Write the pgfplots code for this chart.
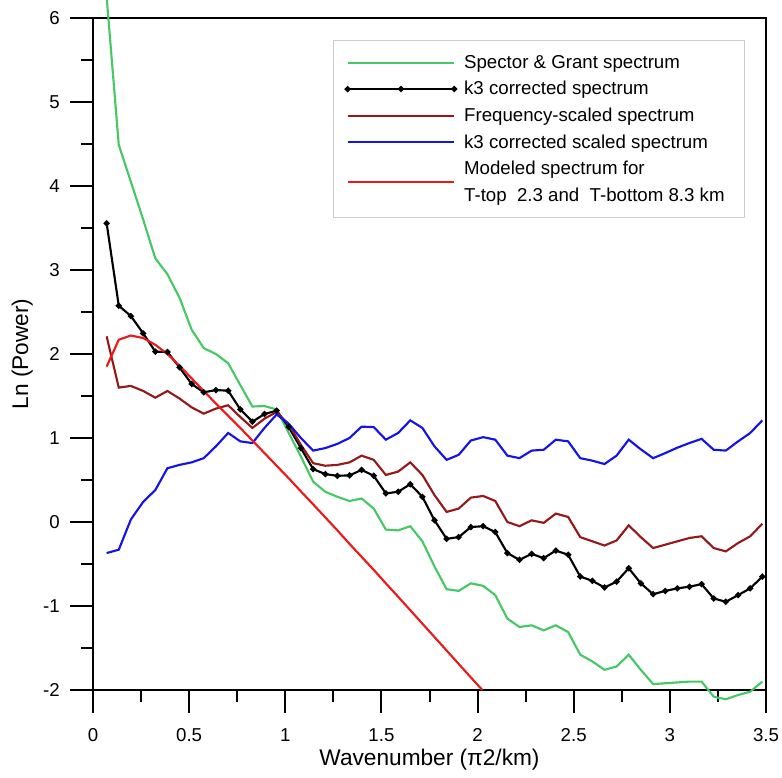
\documentclass[border=0pt]{standalone}
\usepackage{fontspec}
\setmainfont{Liberation Sans}
\usepackage{pgfplots}
\usepackage{pgfplotstable}
\pgfplotsset{compat=1.18}

\definecolor{sgGreen}{RGB}{70,200,100}
\definecolor{fsRed}{RGB}{150,25,25}
\definecolor{ksBlue}{RGB}{20,20,230}
\definecolor{modRed}{RGB}{235,25,25}

% x = wavenumber, sg = Spector & Grant, k3 = k3 corrected,
% fs = frequency-scaled, k3s = k3 corrected scaled
\pgfplotstableread{
x     sg     k3     fs     k3s
0.071 6.25   3.556  2.21   -0.37
0.134 4.49   2.575  1.60   -0.33
0.197 4.05   2.452  1.62   0.03
0.261 3.60   2.246  1.56   0.24
0.324 3.14   2.028  1.48   0.38
0.387 2.95   2.024  1.56   0.64
0.450 2.67   1.841  1.47   0.68
0.513 2.29   1.643  1.365  0.71
0.576 2.07   1.544  1.29   0.76
0.639 2.00   1.571  1.35   0.90
0.703 1.89   1.563  1.39   1.06
0.766 1.63   1.341  1.25   0.96
0.829 1.375  1.194  1.12   0.94
0.892 1.38   1.286  1.23   1.12
0.955 1.34   1.325  1.31   1.28
1.018 1.06   1.13   1.16   1.17
1.081 0.78   0.88   0.92   1.00
1.145 0.48   0.63   0.70   0.85
1.208 0.36   0.57   0.67   0.88
1.271 0.30   0.55   0.68   0.93
1.334 0.25   0.555  0.71   1.00
1.397 0.28   0.62   0.79   1.135
1.460 0.16   0.55   0.74   1.13
1.523 -0.09  0.34   0.56   0.98
1.587 -0.10  0.36   0.60   1.06
1.650 -0.05  0.45   0.71   1.21
1.713 -0.23  0.30   0.56   1.12
1.776 -0.53  0.02   0.32   0.90
1.839 -0.80  -0.20  0.12   0.74
1.902 -0.82  -0.18  0.16   0.80
1.965 -0.73  -0.06  0.29   0.97
2.029 -0.76  -0.05  0.31   1.01
2.092 -0.87  -0.12  0.25   0.98
2.155 -1.15  -0.37  0.00   0.79
2.218 -1.25  -0.45  -0.05  0.76
2.281 -1.23  -0.38  0.02   0.85
2.344 -1.29  -0.43  -0.01  0.86
2.407 -1.23  -0.34  0.10   0.98
2.471 -1.31  -0.39  0.06   0.96
2.534 -1.58  -0.65  -0.18  0.76
2.597 -1.66  -0.70  -0.23  0.73
2.660 -1.76  -0.78  -0.28  0.69
2.723 -1.72  -0.71  -0.22  0.79
2.786 -1.58  -0.55  -0.04  0.98
2.849 -1.76  -0.73  -0.18  0.865
2.913 -1.93  -0.86  -0.31  0.76
2.976 -1.92  -0.82  -0.27  0.82
3.039 -1.91  -0.79  -0.23  0.885
3.102 -1.90  -0.77  -0.19  0.94
3.165 -1.90  -0.74  -0.17  0.99
3.228 -2.08  -0.91  -0.31  0.86
3.291 -2.11  -0.95  -0.35  0.85
3.355 -2.06  -0.87  -0.25  0.96
3.418 -2.02  -0.79  -0.17  1.06
3.481 -1.90  -0.65  -0.02  1.21
}\spectra

% modeled spectrum (T-top 2.3, T-bottom 8.3 km)
\pgfplotstableread{
x     y
0.071 1.85
0.134 2.17
0.197 2.22
0.261 2.19
0.324 2.11
0.387 2.00
0.450 1.86
0.513 1.71
0.576 1.56
0.639 1.41
0.703 1.265
0.766 1.12
0.829 0.97
0.892 0.82
0.955 0.67
1.018 0.52
1.081 0.365
1.145 0.21
1.208 0.055
1.271 -0.10
1.334 -0.26
1.397 -0.415
1.460 -0.57
1.523 -0.73
1.587 -0.89
1.650 -1.05
1.713 -1.21
1.776 -1.37
1.839 -1.53
1.902 -1.69
1.965 -1.85
2.025 -2.00
}\model

\begin{document}
\begin{tikzpicture}
\useasboundingbox (-69.75pt,-66pt) rectangle (516.75pt,517.5pt);
\begin{axis}[
  at={(0pt,0pt)}, anchor=south west,
  scale only axis, width=504.75pt, height=504pt,
  xmin=0, xmax=3.5, ymin=-2, ymax=6,
  clip=false,
  separate axis lines,
  axis line style={draw=black, line width=1.5pt, line cap=rect},
  xtick={0,0.5,1,1.5,2,2.5,3,3.5},
  ytick={-2,-1,0,1,2,3,4,5,6},
  xmajorticks=false, ymajorticks=false,
  tick pos=left,
  xlabel={Wavenumber (π2/km)}, ylabel={Ln (Power)},
  label style={font=\fontsize{17}{20}\selectfont},
  xlabel style={at={(axis description cs:0.5,0)}, anchor=center, yshift=-52.5pt},
  ylabel style={at={(axis description cs:0,0.5)}, anchor=center, yshift=53pt},
  legend cell align=left,
  legend image code/.code={\draw[#1, line width=1.6pt] plot coordinates {(0pt,0pt) (40pt,0pt) (80pt,0pt)};},
  legend style={at={(0.357,0.967)}, anchor=north west, draw=black!20,
    line width=0.75pt, fill=white, font=\fontsize{14}{19.9}\selectfont,
    inner xsep=9pt, inner ysep=6.75pt, row sep=0pt,
    cells={anchor=west, align=left},
    nodes={inner ysep=4.15pt, inner xsep=6pt}},
]
% frame top and right
\draw[black, line width=1.5pt, line cap=rect] (axis cs:0,6) -- (axis cs:3.5,6) -- (axis cs:3.5,-2);
% outward ticks, Grapher style
\pgfplotsinvokeforeach{0,0.5,1,1.5,2,2.5,3,3.5}{
  \draw[black, line width=1.5pt] (axis cs:#1,-2) -- ++(0pt,-17.25pt);
  \node[font=\fontsize{14}{16}\selectfont, anchor=center, yshift=-33.75pt] at (axis cs:#1,-2) {#1};}
\pgfplotsinvokeforeach{0.25,0.75,1.25,1.75,2.25,2.75,3.25}{
  \draw[black, line width=1.5pt] (axis cs:#1,-2) -- ++(0pt,-9pt);}
\pgfplotsinvokeforeach{-2,-1,0,1,2,3,4,5,6}{
  \draw[black, line width=1.5pt] (axis cs:0,#1) -- ++(-17.25pt,0pt);
  \node[font=\fontsize{14}{16}\selectfont, anchor=east, inner sep=0pt, xshift=-24.75pt] at (axis cs:0,#1) {#1};}
\pgfplotsinvokeforeach{-1.5,-0.5,0.5,1.5,2.5,3.5,4.5,5.5}{
  \draw[black, line width=1.5pt] (axis cs:0,#1) -- ++(-9pt,0pt);}

\addplot[sgGreen, line width=1.6pt, mark=none] table[x=x, y=sg] {\spectra};
\addlegendentry{Spector \& Grant spectrum}
\addplot[black, line width=1.6pt, mark=*, mark size=1.4pt] table[x=x, y=k3] {\spectra};
\addlegendentry{k3 corrected spectrum}
\addplot[fsRed, line width=1.6pt, mark=none] table[x=x, y=fs] {\spectra};
\addlegendentry{Frequency-scaled spectrum}
\addplot[ksBlue, line width=1.6pt, mark=none] table[x=x, y=k3s] {\spectra};
\addlegendentry{k3 corrected scaled spectrum}
\addplot[modRed, line width=1.6pt, mark=none] table[x=x, y=y] {\model};
\addlegendentry{Modeled spectrum for\\T-top\ \ 2.3 and\ \ T-bottom 8.3 km}
\end{axis}
\end{tikzpicture}
\end{document}
